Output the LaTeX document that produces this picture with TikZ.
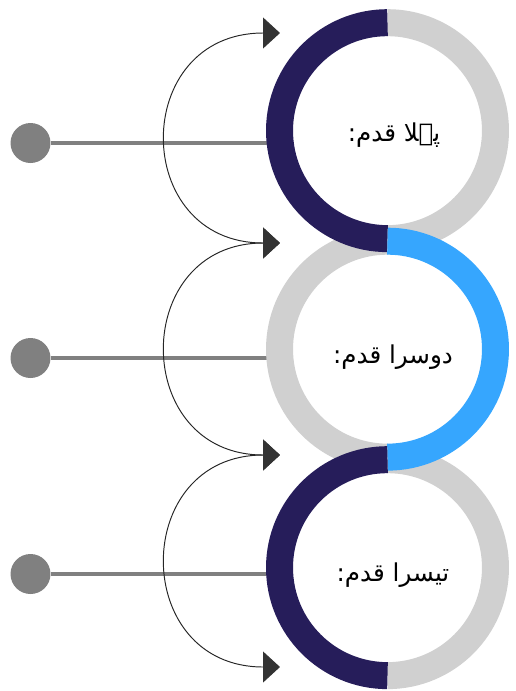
\documentclass[tikz,border=0pt]{standalone}
\usepackage{fontspec}
\usetikzlibrary{arrows.meta}
\TeXXeTstate=1
\newfontfamily\urdufont[Script=Arabic]{DejaVu Sans}
\definecolor{stepnavy}{RGB}{38,29,90}
\definecolor{stepblue}{RGB}{54,166,254}
\definecolor{ringgray}{RGB}{208,208,208}
\definecolor{stemgray}{RGB}{128,128,128}
\definecolor{tipgray}{RGB}{51,51,51}

\begin{document}
\begin{tikzpicture}[x=0.02cm, y=-0.02cm,
    ring/.style={circle, minimum size=4.32cm, inner sep=0pt},
    half/.style={line width=0.54cm},
    dot/.style={circle, fill=stemgray, minimum size=0.8cm, inner sep=0pt},
    stem/.style={stemgray, line width=2.6pt},
    hook/.style={black!85, line width=0.55pt,
        {Triangle[length=0.34cm, width=0.62cm, color=tipgray]}-{Triangle[length=0.34cm, width=0.62cm, color=tipgray]}},
    steptext/.style={font=\urdufont\fontsize{14}{18}\selectfont, inner sep=0pt}]
                \useasboundingbox (0,0) rectangle (515,691);

                % Rings (one per step)
                \node[ring] (r1) at (387.5,131) {};
                \node[ring] (r2) at (387.5,349.5) {};
                \node[ring] (r3) at (387.5,568) {};

                % Start dots and stems
                \node[dot] (d1) at (30.5,143) {};
                \node[dot] (d2) at (30.5,358) {};
                \node[dot] (d3) at (30.5,574) {};
                \draw[stem] (d1) -- (r1.west |- d1);
                \draw[stem] (d2) -- (r2.west |- d2);
                \draw[stem] (d3) -- (r3.west |- d3);

                % Grey halves first
                \draw[half, ringgray] (r1.north) arc[start angle=90, end angle=-90, radius=2.16cm];
                \draw[half, ringgray] (r2.north) arc[start angle=90, end angle=270, radius=2.16cm];
                \draw[half, ringgray] (r3.north) arc[start angle=90, end angle=-90, radius=2.16cm];

                % Coloured halves on top
                \draw[half, stepnavy] (r1.north) arc[start angle=90, end angle=270, radius=2.16cm];
                \draw[half, stepblue] (r2.north) arc[start angle=90, end angle=-90, radius=2.16cm];
                \draw[half, stepnavy] (r3.north) arc[start angle=90, end angle=270, radius=2.16cm];

                % Step labels
                \node[steptext] (t1) at (394,135) {\beginR پہلا قدم:\endR};
                \node[steptext] (t2) at (393,357) {\beginR دوسرا قدم:\endR};
                \node[steptext] (t3) at (393,575) {\beginR تیسرا قدم:\endR};

                % Curved arrows between steps
                \coordinate (h0) at (280,33);
                \coordinate (h1) at (280,243);
                \coordinate (h2) at (280,455);
                \coordinate (h3) at (280,667);
                \draw[hook] (h0) .. controls +(-150,0) and +(-150,0) .. (h1);
                \draw[hook] (h1) .. controls +(-150,0) and +(-150,0) .. (h2);
                \draw[hook] (h2) .. controls +(-150,0) and +(-150,0) .. (h3);
            \end{tikzpicture}
\end{document}
